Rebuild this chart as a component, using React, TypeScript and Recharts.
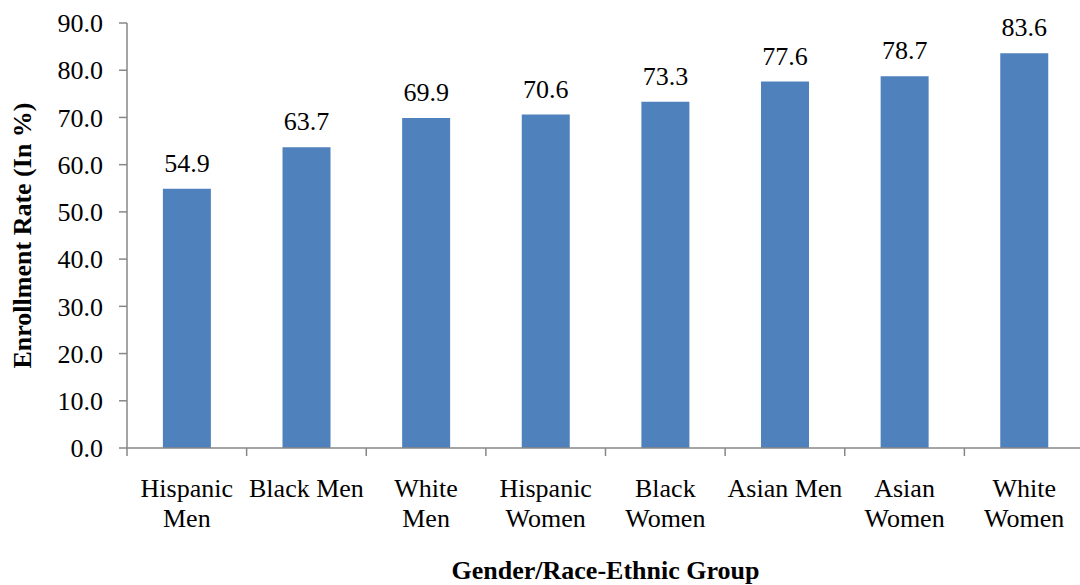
import { Bar, BarChart, LabelList, XAxis, YAxis } from 'recharts';

const groups = [
  'Hispanic Men',
  'Black Men',
  'White Men',
  'Hispanic Women',
  'Black Women',
  'Asian Men',
  'Asian Women',
  'White Women',
];
const enrollmentRates = [54.9, 63.7, 69.9, 70.6, 73.3, 77.6, 78.7, 83.6];
const groupTickLines = [
  ['Hispanic', 'Men'],
  ['Black Men'],
  ['White', 'Men'],
  ['Hispanic', 'Women'],
  ['Black', 'Women'],
  ['Asian Men'],
  ['Asian', 'Women'],
  ['White', 'Women'],
];
const rateTicks = [0, 10, 20, 30, 40, 50, 60, 70, 80, 90];

const data = groups.map((group, i) => ({ group, rate: enrollmentRates[i], slot: i + 0.5 }));

// positions on the group axis: whole numbers are the borders between
// groups (tick marks), halves are group centres (labels)
const groupAxisTicks = Array.from({ length: groups.length * 2 + 1 }, (_, i) => i / 2);

const FONT = 'Liberation Serif, Times New Roman, serif';
const AXIS_COLOR = '#878787';
const textStyle = { fontFamily: FONT, fontSize: 26, fill: '#000' };

function GroupTick({ x, y, payload }: any) {
  const v = payload.value as number;
  if (Number.isInteger(v)) {
    return <line x1={x} x2={x} y1={y} y2={y + 8} stroke={AXIS_COLOR} strokeWidth={1.5} />;
  }
  const lines = groupTickLines[Math.floor(v)] ?? [];
  return (
    <text x={x} y={y} textAnchor="middle" style={textStyle}>
      {lines.map((line, i) => (
        <tspan key={i} x={x} dy={i === 0 ? 49 : 30}>
          {line}
        </tspan>
      ))}
    </text>
  );
}

export default function App() {
  return (
    <div
      style={{
        position: 'absolute',
        left: 0,
        top: 0,
        width: 1080,
        height: 585,
        overflow: 'hidden',
        background: '#fff',
        fontFamily: FONT,
      }}
    >
      <BarChart
        width={1090}
        height={585}
        data={data}
        margin={{ top: 23, right: 6, bottom: 0, left: 0 }}
        barCategoryGap="30%"
      >
        <XAxis dataKey="group" hide height={0} />
        <XAxis
          xAxisId="groups"
          dataKey="slot"
          type="number"
          domain={[0, groups.length]}
          allowDataOverflow
          ticks={groupAxisTicks}
          interval={0}
          height={137}
          axisLine={{ stroke: AXIS_COLOR, strokeWidth: 1.5 }}
          tickLine={false}
          tickSize={0}
          tickMargin={0}
          tick={<GroupTick />}
          label={{
            content: ({ viewBox }: any) => (
              <text
                x={viewBox.x + viewBox.width / 2}
                y={579}
                textAnchor="middle"
                style={{ ...textStyle, fontWeight: 'bold' }}
              >
                Gender/Race-Ethnic Group
              </text>
            ),
          }}
        />
        <YAxis
          width={127}
          domain={[0, 90]}
          ticks={rateTicks}
          tickFormatter={(v: number) => v.toFixed(1)}
          axisLine={{ stroke: AXIS_COLOR, strokeWidth: 1.5 }}
          tickLine={{ stroke: AXIS_COLOR, strokeWidth: 1.5 }}
          tickSize={8}
          tickMargin={16}
          tick={textStyle}
          label={{
            content: ({ viewBox }: any) => {
              const cx = 22;
              const cy = viewBox.y + viewBox.height / 2;
              return (
                <text
                  x={cx}
                  y={cy}
                  transform={`rotate(-90, ${cx}, ${cy})`}
                  textAnchor="middle"
                  dominantBaseline="central"
                  style={{ ...textStyle, fontWeight: 'bold' }}
                >
                  Enrollment Rate (In %)
                </text>
              );
            },
          }}
        />
        <Bar dataKey="rate" fill="#4F81BD" isAnimationActive={false}>
          <LabelList
            dataKey="rate"
            position="top"
            offset={17}
            formatter={(v: any) => Number(v).toFixed(1)}
            style={textStyle}
          />
        </Bar>
      </BarChart>
    </div>
  );
}
